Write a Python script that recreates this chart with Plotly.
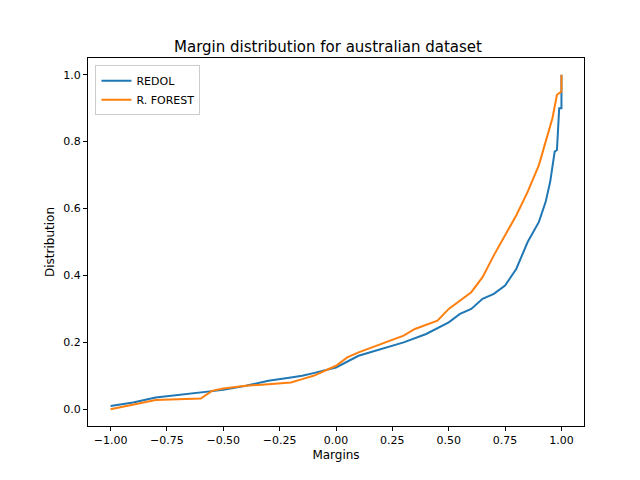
import plotly.graph_objects as go

redol_x = [-1.0, -0.9, -0.8, -0.7, -0.6, -0.5, -0.4, -0.3, -0.2, -0.15, -0.1, 0.0, 0.1, 0.2, 0.3,
           0.4, 0.5, 0.55, 0.6, 0.65, 0.7, 0.75, 0.8, 0.85, 0.9, 0.93, 0.95, 0.97, 0.98, 0.99, 1.0, 1.0]
redol_y = [0.01, 0.02, 0.035, 0.042, 0.05, 0.058, 0.07, 0.085, 0.095, 0.1, 0.108, 0.125, 0.16, 0.18, 0.2,
           0.225, 0.26, 0.285, 0.3, 0.33, 0.345, 0.37, 0.42, 0.5, 0.56, 0.62, 0.68, 0.77, 0.775, 0.9, 0.9, 1.0]

forest_x = [-1.0, -0.9, -0.8, -0.6, -0.55, -0.5, -0.4, -0.3, -0.2, -0.15, -0.1, 0.0, 0.05, 0.1, 0.2,
            0.3, 0.35, 0.45, 0.5, 0.55, 0.6, 0.65, 0.7, 0.75, 0.8, 0.85, 0.9, 0.93, 0.96, 0.98, 1.0, 1.0]
forest_y = [0.0, 0.015, 0.028, 0.032, 0.055, 0.062, 0.07, 0.075, 0.08, 0.09, 0.1, 0.13, 0.155, 0.17, 0.195,
            0.22, 0.24, 0.265, 0.3, 0.325, 0.35, 0.395, 0.46, 0.52, 0.58, 0.65, 0.73, 0.8, 0.87, 0.94, 0.95, 1.0]

fig = go.Figure()
fig.add_trace(go.Scatter(x=redol_x, y=redol_y, mode="lines", name="REDOL",
                         line=dict(color="#1f77b4", width=2)))
fig.add_trace(go.Scatter(x=forest_x, y=forest_y, mode="lines", name="R. FOREST",
                         line=dict(color="#ff7f0e", width=2)))

axis = dict(showgrid=False, zeroline=False, showline=True, linecolor="black", mirror=True,
            ticks="outside", tickcolor="black", ticklen=4, tickfont=dict(size=11))
fig.update_layout(
    width=640, height=480, plot_bgcolor="white", paper_bgcolor="white",
    font=dict(family="DejaVu Sans", size=11, color="black"),
    title=dict(text="Margin distribution for australian dataset", x=0.5, y=0.93, xanchor="center",
               font=dict(size=15)),
    margin=dict(l=80, r=64, t=50, b=62),
    xaxis=dict(axis, title=dict(text="Margins", standoff=4, font=dict(size=12)), range=[-1.1, 1.1],
               tickvals=[-1, -0.75, -0.5, -0.25, 0, 0.25, 0.5, 0.75, 1],
               ticktext=["−1.00", "−0.75", "−0.50", "−0.25", "0.00", "0.25", "0.50", "0.75", "1.00"]),
    yaxis=dict(axis, title=dict(text="Distribution", standoff=6, font=dict(size=12)), range=[-0.05, 1.05],
               tickvals=[0, 0.2, 0.4, 0.6, 0.8, 1.0], tickformat=".1f"),
    legend=dict(x=0.015, y=0.98, xanchor="left", yanchor="top", bordercolor="#cccccc", borderwidth=1,
                bgcolor="white"),
)
fig.write_html("out.html")
